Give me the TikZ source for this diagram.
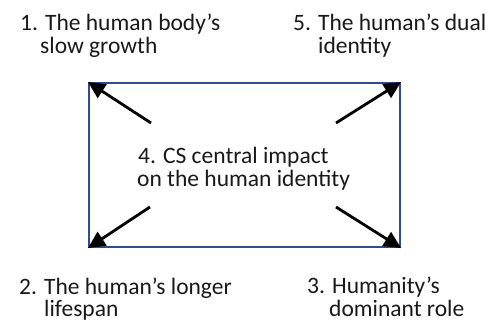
\documentclass[tikz,border=0pt]{standalone}
\usepackage{fontspec}
\setmainfont{Carlito}
\usetikzlibrary{arrows.meta}
\definecolor{frameblue}{HTML}{2F4A9A}
\begin{document}
\begin{tikzpicture}[x=1pt,y=-1pt,
  lbl/.style={anchor=base west,inner sep=0pt,font=\fontsize{23.5}{26}\selectfont,text=black!90},
  frame/.style={draw=frameblue,line width=2pt},
  push/.style={draw=black,line width=2.8pt,-{Triangle[length=17pt,width=16pt]}}]
  \useasboundingbox (0,0) rectangle (488,322);
  % central frame
  \node[frame,minimum width=311pt,minimum height=164pt,inner sep=0pt,anchor=north west] (box) at (88,82) {};
  % central text
  \node[lbl] (c1) at (138,163) {4. CS central impact};
  \node[lbl] (c2) at (137,186) {on the human identity};
  % corner labels
  \node[lbl] (a1) at (20,30) {1. The human body’s};
  \node[lbl] (a2) at (40,53) {slow growth};
  \node[lbl] (e1) at (293,30) {5. The human’s dual};
  \node[lbl] (e2) at (318,53) {identity};
  \node[lbl] (b1) at (19,294) {2. The human’s longer};
  \node[lbl] (b2) at (44,316) {lifespan};
  \node[lbl] (d1) at (307,293) {3. Humanity’s};
  \node[lbl] (d2) at (329,316) {dominant role};
  % arrow tails inside the frame
  \coordinate (tl) at (151,123);
  \coordinate (tr) at (336,123);
  \coordinate (bl) at (150,207);
  \coordinate (br) at (336,207);
  \draw[push] (tl) -- (box.north west);
  \draw[push] (tr) -- (box.north east);
  \draw[push] (bl) -- (box.south west);
  \draw[push] (br) -- (box.south east);
\end{tikzpicture}
\end{document}
